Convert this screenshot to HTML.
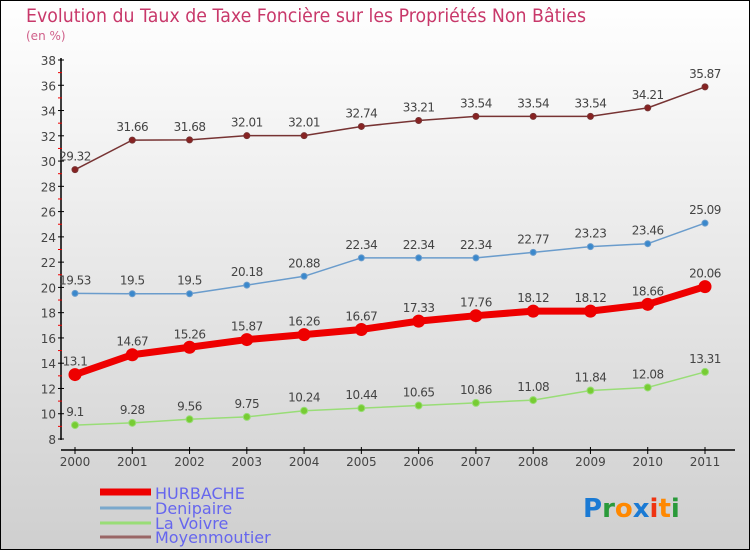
<!DOCTYPE html>
<html><head><meta charset="utf-8"><style>
body{margin:0}
#c{width:750px;height:550px;position:relative;overflow:hidden}
text{font-family:"DejaVu Sans","Liberation Sans",sans-serif}
</style></head><body>
<div id="c">
<svg id="s" width="750" height="550" xmlns="http://www.w3.org/2000/svg">
<defs><linearGradient id="bg" x1="0" y1="0" x2="0" y2="1"><stop offset="0" stop-color="#ffffff"/><stop offset="1" stop-color="#cfcfcf"/></linearGradient></defs>
<rect x="0.5" y="0.5" width="749" height="549" fill="url(#bg)" stroke="#000"/>
<text x="26" y="22" font-size="19" fill="#c8386a" textLength="560" lengthAdjust="spacingAndGlyphs">Evolution du Taux de Taxe Foncière sur les Propriétés Non Bâties</text>
<text x="26" y="40" font-size="12" fill="#d0608a">(en %)</text>
<g id="axes"></g><g id="series"></g>
<g>
<line x1="100" y1="492" x2="151" y2="492" stroke="#ee0000" stroke-width="7"/>
<text x="155" y="499" font-size="16" fill="#6666ee">HURBACHE</text>
<line x1="100" y1="508" x2="151" y2="508" stroke="#7aa8cc" stroke-width="3"/>
<text x="155" y="514" font-size="16" fill="#6666ee">Denipaire</text>
<line x1="100" y1="523" x2="151" y2="523" stroke="#99dd77" stroke-width="3"/>
<text x="155" y="529" font-size="16" fill="#6666ee">La Voivre</text>
<line x1="100" y1="537" x2="151" y2="537" stroke="#996666" stroke-width="3"/>
<text x="155" y="543" font-size="16" fill="#6666ee">Moyenmoutier</text>
</g>
<g font-size="26" font-weight="bold">
<text x="583" y="517"><tspan fill="#1a7ad4">P</tspan><tspan fill="#2a9a3a">r</tspan><tspan fill="#ff8800">o</tspan><tspan fill="#1a7ad4">x</tspan><tspan fill="#ee3311">i</tspan><tspan fill="#ff8800">t</tspan><tspan fill="#2a9a3a">i</tspan></text>
</g>
</svg>
</div>
<script>
const years=["2000","2001","2002","2003","2004","2005","2006","2007","2008","2009","2010","2011"];
const hurbache=[13.1,14.67,15.26,15.87,16.26,16.67,17.33,17.76,18.12,18.12,18.66,20.06];
const denipaire=[19.53,19.5,19.5,20.18,20.88,22.34,22.34,22.34,22.77,23.23,23.46,25.09];
const laVoivre=[9.1,9.28,9.56,9.75,10.24,10.44,10.65,10.86,11.08,11.84,12.08,13.31];
const moyenmoutier=[29.32,31.66,31.68,32.01,32.01,32.74,33.21,33.54,33.54,33.54,34.21,35.87];
const hurbacheLbl=["13.1","14.67","15.26","15.87","16.26","16.67","17.33","17.76","18.12","18.12","18.66","20.06"];
const denipaireLbl=["19.53","19.5","19.5","20.18","20.88","22.34","22.34","22.34","22.77","23.23","23.46","25.09"];
const laVoivreLbl=["9.1","9.28","9.56","9.75","10.24","10.44","10.65","10.86","11.08","11.84","12.08","13.31"];
const moyenLbl=["29.32","31.66","31.68","32.01","32.01","32.74","33.21","33.54","33.54","33.54","34.21","35.87"];
const yTicks=[8,10,12,14,16,18,20,22,24,26,28,30,32,34,36,38];
const NS="http://www.w3.org/2000/svg";
function X(i){return 75+i*(705-75)/(years.length-1);}
function Y(v){return 439-(v-8)*(439-60)/30;}
function mk(t,a,p){const e=document.createElementNS(NS,t);for(const k in a)e.setAttribute(k,a[k]);p.appendChild(e);return e;}
const ax=document.getElementById('axes');
let yl=mk('line',{x1:61,y1:58,x2:61,y2:440,stroke:'#000','stroke-width':1.5},ax);


yTicks.forEach(v=>{
 let t=mk('line',{x1:58,y1:Y(v),x2:64,y2:Y(v),stroke:'#000'},ax);
 
 
 if(v<38){let m=mk('line',{x1:58,y1:Y(v+1),x2:62,y2:Y(v+1),stroke:'#e00'},ax);
 
 }
 let l=mk('text',{x:56,y:Y(v)+5,'font-size':12,fill:'#444','text-anchor':'end'},ax);l.textContent=v;
 
 
});
let xl=mk('line',{x1:61,y1:450,x2:735,y2:450,stroke:'#000','stroke-width':1.5},ax);


years.forEach((y,i)=>{
 let t=mk('line',{x1:X(i),y1:447,x2:X(i),y2:454,stroke:'#000'},ax);
 
 
 let l=mk('text',{x:X(i),y:466,'font-size':12,fill:'#444','text-anchor':'middle'},ax);l.textContent=y;
 
 
});
const sg=document.getElementById('series');
function series(vals,lbls,name,col,fill,w,r){
 const g=mk('g',{},sg);
 
 
 const p=mk('polyline',{points:vals.map((v,i)=>X(i)+','+Y(v)).join(' '),fill:'none',stroke:col,'stroke-width':w,'stroke-linejoin':'round'},g);
 
 
 vals.forEach((v,i)=>{
  const c=mk('circle',{cx:X(i),cy:Y(v),r:r,fill:fill,stroke:col,'stroke-width':1},g);
  
  
  const t=mk('text',{x:X(i),y:Y(v)-9,'font-size':12,fill:'#444','text-anchor':'middle','letter-spacing':'-0.5'},g);t.textContent=lbls[i];
  
  
 });
}
series(moyenmoutier,moyenLbl,'moyenmoutier','#773333','#882222',1.5,3);
series(denipaire,denipaireLbl,'denipaire','#6a9ccc','#3a88cc',1.5,3);
series(laVoivre,laVoivreLbl,'la-voivre','#99dd77','#77cc33',1.5,3.5);
series(hurbache,hurbacheLbl,'hurbache','#ee0000','#ee0000',7,6);
</script>
</body></html>
